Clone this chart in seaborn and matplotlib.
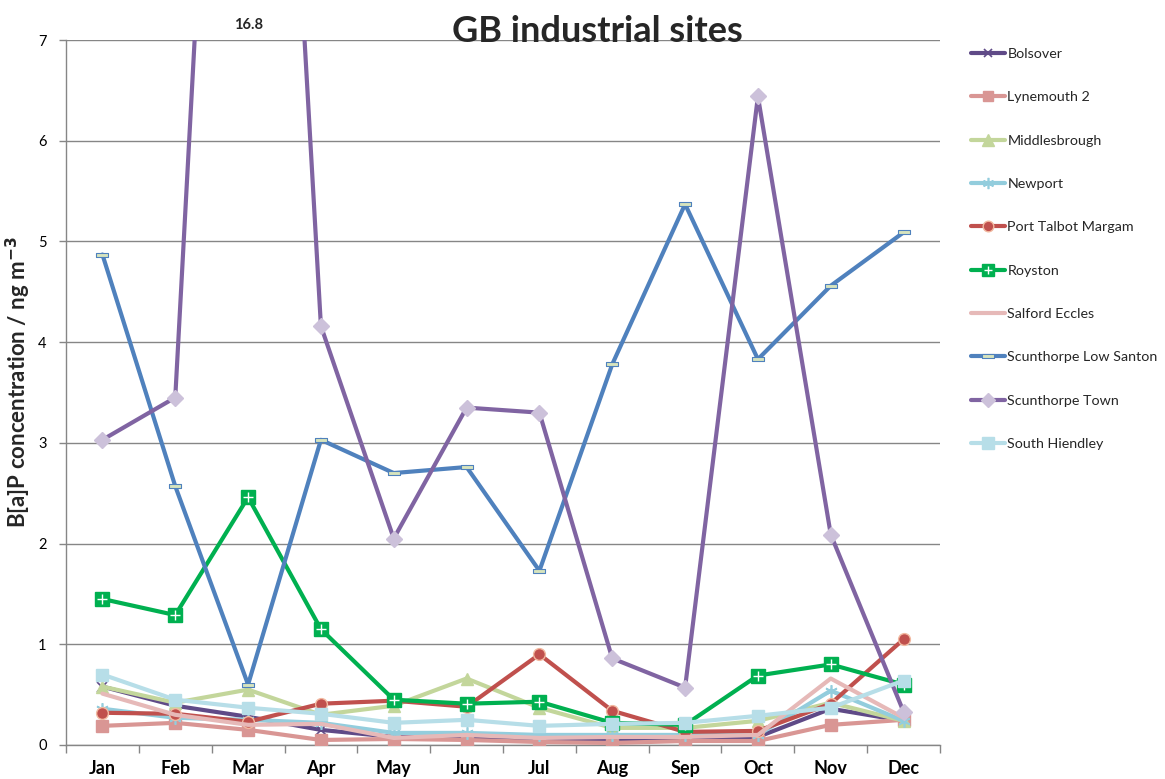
import numpy as np
import pandas as pd
import matplotlib
matplotlib.use("Agg")
import matplotlib.pyplot as plt
import matplotlib.transforms as mtransforms
from matplotlib.lines import Line2D
from matplotlib.path import Path
import seaborn as sns

months = ["Jan", "Feb", "Mar", "Apr", "May", "Jun", "Jul", "Aug", "Sep", "Oct", "Nov", "Dec"]

bolsover = [0.58, 0.39, 0.28, 0.15, 0.08, 0.08, 0.05, 0.05, 0.07, 0.08, 0.36, 0.24]
lynemouth2 = [0.19, 0.22, 0.15, 0.05, 0.06, 0.05, 0.03, 0.02, 0.04, 0.04, 0.20, 0.25]
middlesbrough = [0.58, 0.42, 0.55, 0.30, 0.39, 0.66, 0.37, 0.17, 0.17, 0.24, 0.42, 0.24]
newport = [0.36, 0.27, 0.25, 0.22, 0.12, 0.12, 0.10, 0.10, 0.10, 0.10, 0.54, 0.24]
port_talbot = [0.32, 0.31, 0.23, 0.41, 0.44, 0.38, 0.90, 0.34, 0.13, 0.14, 0.41, 1.05]
royston = [1.45, 1.29, 2.46, 1.15, 0.45, 0.41, 0.43, 0.22, 0.20, 0.69, 0.80, 0.60]
salford = [0.51, 0.30, 0.20, 0.21, 0.07, 0.10, 0.07, 0.08, 0.08, 0.10, 0.66, 0.27]
scun_low_santon = [4.87, 2.57, 0.60, 3.03, 2.70, 2.76, 1.73, 3.78, 5.37, 3.83, 4.56, 5.09]
scun_town = [3.03, 3.45, 16.8, 4.16, 2.05, 3.35, 3.30, 0.86, 0.57, 6.44, 2.09, 0.33]
south_hiendley = [0.70, 0.45, 0.37, 0.31, 0.22, 0.25, 0.19, 0.21, 0.22, 0.29, 0.37, 0.64]

series_names = ["Bolsover", "Lynemouth 2", "Middlesbrough", "Newport", "Port Talbot Margam",
                "Royston", "Salford Eccles", "Scunthorpe Low Santon", "Scunthorpe Town",
                "South Hiendley"]
series_values = [bolsover, lynemouth2, middlesbrough, newport, port_talbot, royston,
                 salford, scun_low_santon, scun_town, south_hiendley]

frames = []
for name, vals in zip(series_names, series_values):
    frames.append(pd.DataFrame({"site": name, "pos": np.arange(len(months)),
                                "month": months, "value": vals}))
df = pd.concat(frames, ignore_index=True)

dash_marker = Path([(-1, -0.3), (1, -0.3), (1, 0.3), (-1, 0.3), (-1, -0.3)],
                   [Path.MOVETO, Path.LINETO, Path.LINETO, Path.LINETO, Path.CLOSEPOLY])

styles = {
    "Bolsover": dict(color="#5F4A87", marker="x", ms=7, mfc="#5F4A87", mec="#5F4A87", mew=1.2),
    "Lynemouth 2": dict(color="#D99694", marker="s", ms=8, mfc="#D99694", mec="#D99694", mew=1),
    "Middlesbrough": dict(color="#C3D69B", marker="^", ms=9, mfc="#C3D69B", mec="#C3D69B", mew=1),
    "Newport": dict(color="#93CDDD", marker=(6, 2, 0), ms=9, mfc="#93CDDD", mec="#93CDDD", mew=1.2),
    "Port Talbot Margam": dict(color="#C0504D", marker="o", ms=8.5, mfc="#C0504D", mec="#F2B9A0", mew=1),
    "Royston": dict(color="#00B050", marker="s", ms=9.5, mfc="#00B050", mec="#00B050", mew=1),
    "Salford Eccles": dict(color="#E6B9B8", marker=None, ms=0, mfc="#E6B9B8", mec="#E6B9B8", mew=0),
    "Scunthorpe Low Santon": dict(color="#4F81BD", marker=dash_marker, ms=9, mfc="#D7E4BD", mec="#4F81BD", mew=0.8),
    "Scunthorpe Town": dict(color="#8064A2", marker="D", ms=8, mfc="#CCC1DA", mec="#CCC1DA", mew=1),
    "South Hiendley": dict(color="#B7DEE8", marker="s", ms=9, mfc="#B7DEE8", mec="#B7DEE8", mew=1),
}

sns.set_theme(style="white")
plt.rcParams['font.family'] = ['Lato', 'DejaVu Sans']

fig = plt.figure(figsize=(11.65, 7.79), dpi=100)
ax = fig.add_axes([66 / 1165, 34 / 779, (940 - 66) / 1165, (745 - 40) / 779])

for i, name in enumerate(series_names):
    st = styles[name]
    sub = df[df["site"] == name]
    kw = dict(marker=st["marker"], markersize=st["ms"], markerfacecolor=st["mfc"],
              markeredgecolor=st["mec"], markeredgewidth=st["mew"]) if st["marker"] is not None else {}
    sns.lineplot(data=sub, x="pos", y="value", color=st["color"], linewidth=3,
                 label=name, ax=ax, zorder=3 + i, **kw)
    if name == "Royston":
        sns.scatterplot(data=sub, x="pos", y="value", marker="+", color="white", s=55,
                        linewidth=1.0, ax=ax, zorder=3 + i + 0.5, legend=False)

ax.set_xlim(-0.5, len(months) - 0.5)
ax.set_ylim(0, 7)
ax.set_xticks(np.arange(len(months)))
ax.set_xticklabels(months, fontsize=13, fontweight="bold")
ax.set_xticks(np.arange(-0.5, len(months), 1), minor=True)
ax.set_yticks(np.arange(0, 8, 1))
ax.set_yticklabels([str(v) for v in range(8)], fontsize=10.5)
ax.tick_params(axis="x", which="major", length=0, pad=11, colors="black")
ax.tick_params(axis="x", which="minor", length=6, width=1, color="#868686", direction="out")
ax.tick_params(axis="y", which="major", length=5, width=1, color="#868686", direction="out",
               pad=9, labelcolor="black")
ax.xaxis.set_ticks_position("bottom")
ax.yaxis.set_ticks_position("left")
ax.grid(axis="y", color="#868686", linewidth=1)
ax.grid(axis="x", visible=False)
for side in ["top", "right"]:
    ax.spines[side].set_visible(False)
for side in ["left", "bottom"]:
    ax.spines[side].set_color("#868686")
    ax.spines[side].set_linewidth(1)
ax.set_axisbelow(True)
ax.set_xlabel("")
ax.set_ylabel(r"B[a]P concentration / ng m$^{\mathbf{-3}}$", fontsize=16, fontweight="bold")
ax.yaxis.set_label_coords(-(66 - 33) / (940 - 66), (745 - 382) / (745 - 40))

trans = mtransforms.blended_transform_factory(ax.transData, fig.transFigure)
ax.text(months.index("Mar"), 1 - 25 / 779, f"{max(scun_town):.1f}", transform=trans,
        ha="center", va="center", fontsize=10.5, fontweight="bold")

fig.text(597 / 1165, 1 - 32 / 779, "GB industrial sites", ha="center", va="center",
         fontsize=26, fontweight="bold")

handles, labels = ax.get_legend_handles_labels()
new_handles = []
for h, l in zip(handles, labels):
    if l == "Royston":
        cross = Line2D([], [], marker="+", color="white", linestyle="", markersize=7, markeredgewidth=1)
        new_handles.append((h, cross))
    else:
        new_handles.append(h)
ax.legend(new_handles, labels, loc="upper left", bbox_to_anchor=(958 / 1165, 1 - 35 / 779),
          bbox_transform=fig.transFigure, frameon=False, fontsize=10.3, handlelength=2.4,
          handletextpad=0.15, labelspacing=2.19, markerscale=0.9)

fig.savefig("out.png", dpi=100)
